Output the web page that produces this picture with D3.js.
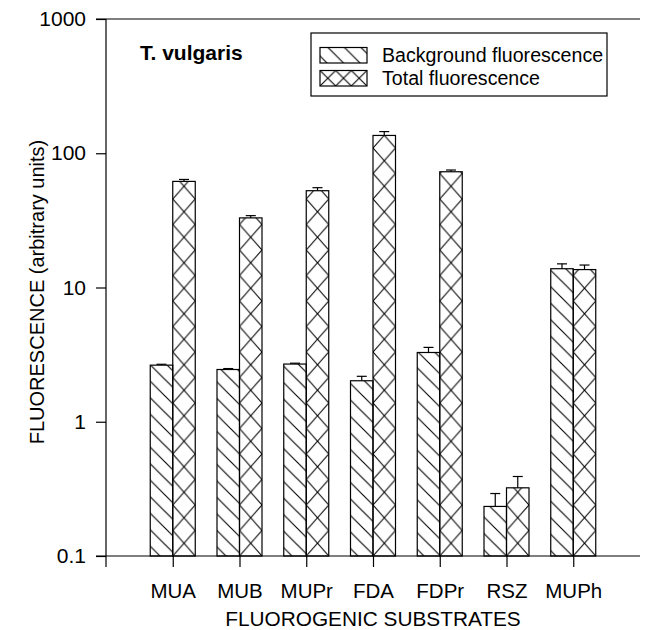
<!doctype html>
<html lang="en">
  <head>
    <meta charset="UTF-8" />
    <title>T. vulgaris fluorescence</title>
    <script src="https://d3js.org/d3.v7.min.js"></script>
    <style>
      body {
        margin: 0;
        padding: 0;
        background: #fff;
      }
      text {
        font-family: Arial, 'Liberation Sans', sans-serif;
        fill: #000;
      }
    </style>
  </head>
  <body>
    <svg id="chart" width="645" height="630"></svg>

    <script>
      const substrates = ['MUA', 'MUB', 'MUPr', 'FDA', 'FDPr', 'RSZ', 'MUPh'];
      const background = [2.64, 2.45, 2.69, 2.02, 3.28, 0.234, 13.8];
      const backgroundErr = [0.04, 0.04, 0.04, 0.16, 0.3, 0.058, 1.2];
      const total = [61.7, 33.0, 52.6, 135.7, 72.8, 0.322, 13.6];
      const totalErr = [2.1, 1.3, 2.8, 9.3, 2.2, 0.069, 1.1];
      const yTicks = [0.1, 1, 10, 100, 1000];
      const seriesNames = ['Background fluorescence', 'Total fluorescence'];

      const svg = d3.select('#chart');
      const plotLeft = 106,
        plotRight = 640,
        plotTop = 19,
        plotBottom = 556;
      const barW = 22.5;

      const x = d3
        .scalePoint()
        .domain(substrates)
        .range([plotLeft, plotRight])
        .padding(1);

      const y = d3
        .scaleLog()
        .domain([0.1, 1000])
        .range([plotBottom, plotTop]);

      const defs = svg.append('defs');

      // diagonal hatch for background bars
      const diag = defs
        .append('pattern')
        .attr('id', 'diag')
        .attr('patternUnits', 'userSpaceOnUse')
        .attr('width', 16.5)
        .attr('height', 16.5);
      diag
        .append('path')
        .attr('d', 'M-2,-2 L18.5,18.5 M-2,14.5 L2,18.5 M14.5,-2 L18.5,2')
        .attr('stroke', '#000')
        .attr('stroke-width', 1.1);

      // cross hatch, one tile per bar so the diamonds line up with the edges
      function crossPattern(id, px, py, w, h) {
        const p = defs
          .append('pattern')
          .attr('id', id)
          .attr('patternUnits', 'userSpaceOnUse')
          .attr('x', px)
          .attr('y', py)
          .attr('width', w)
          .attr('height', h);
        p.append('path')
          .attr('d', `M0,0 L${w},${h} M${w},0 L0,${h}`)
          .attr('stroke', '#000')
          .attr('stroke-width', 1.1);
        return `url(#${id})`;
      }

      const rows = substrates.map((s, i) => ({
        name: s,
        bg: background[i],
        bgErr: backgroundErr[i],
        tot: total[i],
        totErr: totalErr[i],
      }));

      // top frame line
      svg
        .append('line')
        .attr('x1', plotLeft - 10)
        .attr('x2', plotRight)
        .attr('y1', plotTop)
        .attr('y2', plotTop)
        .attr('stroke', '#000')
        .attr('stroke-width', 1.2);

      const g = svg.append('g');

      rows.forEach((d, i) => {
        const cx = x(d.name);
        // background bar
        g.append('rect')
          .attr('x', cx - barW)
          .attr('y', y(d.bg))
          .attr('width', barW)
          .attr('height', plotBottom - y(d.bg))
          .attr('fill', 'url(#diag)')
          .attr('stroke', '#000')
          .attr('stroke-width', 1.2);
        // total bar
        const fill = crossPattern('cross' + i, cx, plotBottom, barW, 25.5);
        g.append('rect')
          .attr('x', cx)
          .attr('y', y(d.tot))
          .attr('width', barW)
          .attr('height', plotBottom - y(d.tot))
          .attr('fill', fill)
          .attr('stroke', '#000')
          .attr('stroke-width', 1.2);

        // error bars
        [
          [cx - barW / 2, d.bg, d.bgErr],
          [cx + barW / 2, d.tot, d.totErr],
        ].forEach(([ex, v, e]) => {
          g.append('line')
            .attr('x1', ex)
            .attr('x2', ex)
            .attr('y1', y(v))
            .attr('y2', y(v + e))
            .attr('stroke', '#000')
            .attr('stroke-width', 1.2);
          g.append('line')
            .attr('x1', ex - 5)
            .attr('x2', ex + 5)
            .attr('y1', y(v + e))
            .attr('y2', y(v + e))
            .attr('stroke', '#000')
            .attr('stroke-width', 1.2);
        });
      });

      // y axis
      const yAxis = svg
        .append('g')
        .attr('transform', `translate(${plotLeft},0)`)
        .call(
          d3
            .axisLeft(y)
            .tickValues(yTicks)
            .tickFormat(d3.format('~g'))
            .tickSize(10)
            .tickPadding(10),
        );
      yAxis.select('.domain').attr('d', `M0,${plotTop}V${plotBottom + 11}`);
      yAxis.selectAll('line').attr('stroke-width', 1.2);
      yAxis
        .selectAll('text')
        .style('font-size', '21px')
        .style('font-family', 'Arial, Liberation Sans, sans-serif');

      // x axis
      const xAxis = svg
        .append('g')
        .attr('transform', `translate(0,${plotBottom})`)
        .call(d3.axisBottom(x).tickSize(11).tickPadding(16));
      xAxis.select('.domain').attr('d', `M${plotLeft - 10},0H${plotRight}`);
      xAxis.selectAll('line').attr('stroke-width', 1.2);
      xAxis
        .selectAll('text')
        .style('font-size', '20.5px')
        .style('font-family', 'Arial, Liberation Sans, sans-serif');
      svg.selectAll('.domain').attr('stroke-width', 1.2);

      // axis titles
      svg
        .append('text')
        .attr('x', 373)
        .attr('y', 626)
        .attr('text-anchor', 'middle')
        .style('font-size', '20.8px')
        .text('FLUOROGENIC SUBSTRATES');

      svg
        .append('text')
        .attr('transform', 'translate(44,292) rotate(-90)')
        .attr('text-anchor', 'middle')
        .style('font-size', '20px')
        .text('FLUORESCENCE (arbitrary units)');

      svg
        .append('text')
        .attr('x', 140)
        .attr('y', 60)
        .style('font-size', '21px')
        .style('font-weight', 'bold')
        .text('T. vulgaris');

      // legend
      const lg = svg.append('g');
      lg.append('rect')
        .attr('x', 311)
        .attr('y', 33)
        .attr('width', 296)
        .attr('height', 63)
        .attr('fill', '#fff')
        .attr('stroke', '#000')
        .attr('stroke-width', 1.2);

      seriesNames.forEach((name, i) => {
        const sy = 47.5 + i * 23;
        const fill =
          i === 0
            ? 'url(#diag)'
            : crossPattern('legcross', 320, sy, 47 / 3, 15.5);
        lg.append('rect')
          .attr('x', 320)
          .attr('y', sy)
          .attr('width', 47)
          .attr('height', 15.5)
          .attr('fill', fill)
          .attr('stroke', '#000')
          .attr('stroke-width', 1.2);
        lg.append('text')
          .attr('x', 382)
          .attr('y', sy + 14)
          .style('font-size', '19.6px')
          .text(name);
      });
    </script>
  </body>
</html>
